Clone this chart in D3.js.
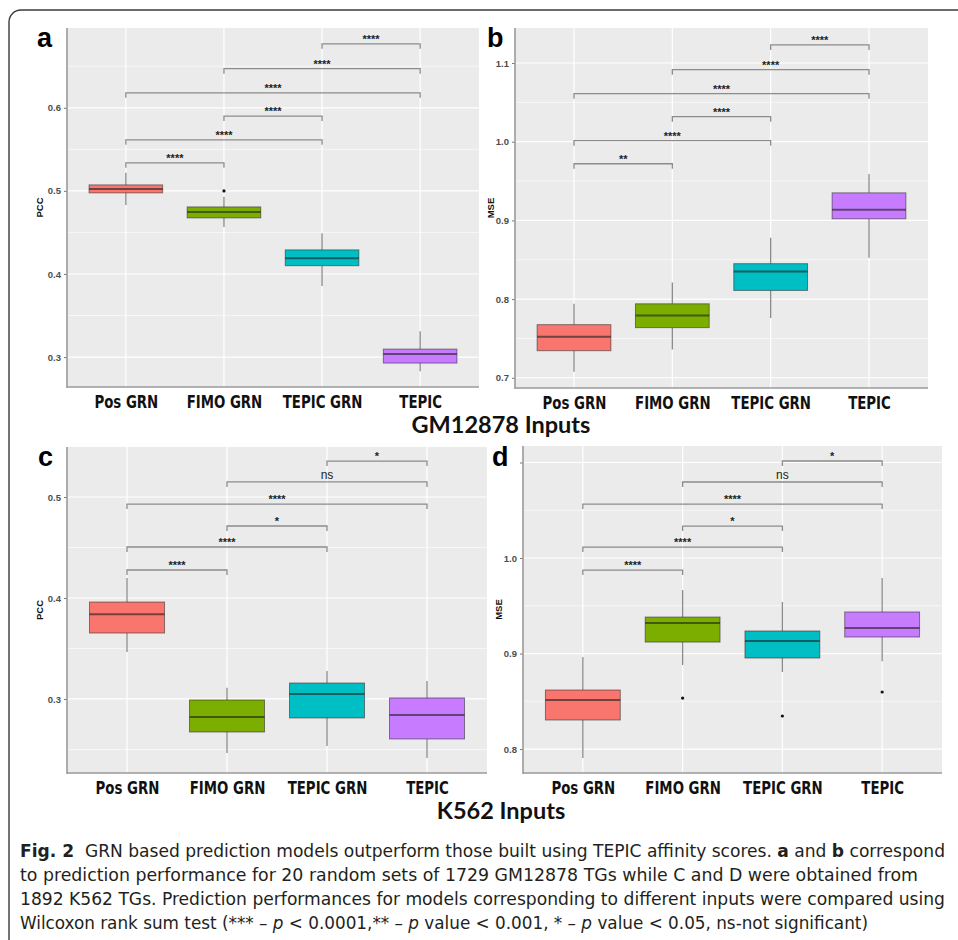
<!DOCTYPE html>
<html>
<head>
<meta charset="utf-8">
<script src="https://cdn.jsdelivr.net/npm/d3@7"></script>
<style>
  body { margin: 0; background: #fff; }
  svg { display: block; }
</style>
</head>
<body>
<div id="chart"></div>
<script>
const categories = ['Pos GRN', 'FIMO GRN', 'TEPIC GRN', 'TEPIC'];

// five-number summaries per category: [lower whisker, q1, median, q3, upper whisker]
const gmPcc = [[0.483, 0.4976, 0.5024, 0.5072, 0.5217], [0.4566, 0.4675, 0.4747, 0.4807, 0.4928],
               [0.3855, 0.410, 0.419, 0.429, 0.449], [0.283, 0.2928, 0.3036, 0.3096, 0.331]];
const gmMse = [[0.7078, 0.7344, 0.752, 0.7675, 0.794], [0.736, 0.7637, 0.779, 0.794, 0.821],
               [0.776, 0.811, 0.835, 0.845, 0.878], [0.8526, 0.902, 0.9136, 0.935, 0.959]];
const k562Pcc = [[0.3465, 0.3653, 0.384, 0.396, 0.4198], [0.2465, 0.2673, 0.2822, 0.299, 0.311],
                 [0.2535, 0.2812, 0.305, 0.3158, 0.3277], [0.2416, 0.2604, 0.2842, 0.301, 0.3178]];
const k562Mse = [[0.7906, 0.8304, 0.8513, 0.8618, 0.8963], [0.888, 0.912, 0.932, 0.9382, 0.9665],
                 [0.8806, 0.8953, 0.913, 0.9236, 0.954], [0.892, 0.9173, 0.9267, 0.9435, 0.979]];

// outliers: [category index, value]
const gmPccOut = [[1, 0.500]];
const gmMseOut = [];
const k562PccOut = [];
const k562MseOut = [[1, 0.8534], [2, 0.8346], [3, 0.8597]];

// significance brackets
const pairs = [[0, 1], [0, 2], [1, 2], [0, 3], [1, 3], [2, 3]];
const gmPccSig = ['****', '****', '****', '****', '****', '****'];
const gmMseSig = ['**', '****', '****', '****', '****', '****'];
const k562Sig = ['****', '****', '*', '****', 'ns', '*'];
const gmPccBracket = [0.5337, 0.5614, 0.590, 0.618, 0.647, 0.677];
const gmMseBracket = [0.972, 1.0013, 1.0318, 1.061, 1.0915, 1.123];
const k562PccBracket = [0.4277, 0.4505, 0.4713, 0.493, 0.5149, 0.5356];
const k562MseBracket = [0.9874, 1.0115, 1.0335, 1.0565, 1.0796, 1.1016];

const gmPccTicks = [0.3, 0.4, 0.5, 0.6];
const gmMseTicks = [0.7, 0.8, 0.9, 1.0, 1.1];
const k562PccTicks = [0.3, 0.4, 0.5];
const k562MseTicks = [0.8, 0.9, 1.0, 1.1];

const colors = ['#F8766D', '#7CAE00', '#00BFC4', '#C77CFF'];

const W = 958, H = 940;
const svg = d3.select('#chart').append('svg')
  .attr('width', W)
  .attr('height', H);

svg.append('rect').attr('width', W).attr('height', H).attr('fill', '#fff');

// figure frame
svg.append('rect')
  .attr('x', 9).attr('y', 10)
  .attr('width', 1000).attr('height', 1000)
  .attr('rx', 12)
  .attr('fill', 'none')
  .attr('stroke', '#3a3a3a')
  .attr('stroke-width', 1.4);

const panels = [
  { label: 'a', yTitle: 'PCC', stats: gmPcc, out: gmPccOut, sig: gmPccSig, br: gmPccBracket, ticks: gmPccTicks,
    domain: [0.264, 0.696], x0: 67, x1: 479, y0: 28, y1: 387, lx: 37, ly: 47, tx: 40 },
  { label: 'b', yTitle: 'MSE', stats: gmMse, out: gmMseOut, sig: gmMseSig, br: gmMseBracket, ticks: gmMseTicks,
    domain: [0.687, 1.1445], x0: 515, x1: 928, y0: 28, y1: 388, lx: 487, ly: 47, tx: 491 },
  { label: 'c', yTitle: 'PCC', stats: k562Pcc, out: k562PccOut, sig: k562Sig, br: k562PccBracket, ticks: k562PccTicks,
    domain: [0.2267, 0.5495], x0: 67, x1: 487, y0: 447, y1: 773, lx: 38, ly: 466, tx: 40 },
  { label: 'd', yTitle: 'MSE', stats: k562Mse, out: k562MseOut, sig: k562Sig, br: k562MseBracket, ticks: k562MseTicks,
    domain: [0.7749, 1.1173], x0: 523, x1: 942, y0: 446, y1: 773, lx: 492, ly: 466, tx: 499 }
];

panels.forEach(drawPanel);

function drawPanel(p) {
  const x = d3.scalePoint().domain(categories).range([p.x0, p.x1]).padding(0.6);
  const y = d3.scaleLinear().domain(p.domain).range([p.y1, p.y0]);
  const step = x.step();
  const g = svg.append('g');

  g.append('rect')
    .attr('x', p.x0).attr('y', p.y0)
    .attr('width', p.x1 - p.x0).attr('height', p.y1 - p.y0)
    .attr('fill', '#EBEBEB');

  const minor = p.ticks.map(t => t - 0.05).concat([p.ticks[p.ticks.length - 1] + 0.05])
    .filter(v => v > p.domain[0] && v < p.domain[1]);
  g.selectAll('.minor').data(minor).enter().append('line')
    .attr('x1', p.x0).attr('x2', p.x1)
    .attr('y1', d => y(d)).attr('y2', d => y(d))
    .attr('stroke', '#fff').attr('stroke-width', 0.6);
  g.selectAll('.major').data(p.ticks.filter(v => v < p.domain[1])).enter().append('line')
    .attr('x1', p.x0).attr('x2', p.x1)
    .attr('y1', d => y(d)).attr('y2', d => y(d))
    .attr('stroke', '#fff').attr('stroke-width', 1.2);
  g.selectAll('.vgrid').data(categories).enter().append('line')
    .attr('x1', d => x(d)).attr('x2', d => x(d))
    .attr('y1', p.y0).attr('y2', p.y1)
    .attr('stroke', '#fff').attr('stroke-width', 1.2);

  // brackets
  p.br.forEach((v, i) => {
    const [a, b] = pairs[i];
    const xa = x(categories[a]), xb = x(categories[b]), yy = y(v);
    g.append('path')
      .attr('d', `M${xa},${yy + 5}V${yy}H${xb}V${yy + 5}`)
      .attr('fill', 'none')
      .attr('stroke', '#8c8c8c')
      .attr('stroke-width', 1.3);
    const isNs = p.sig[i] === 'ns';
    g.append('text')
      .attr('x', (xa + xb) / 2)
      .attr('y', isNs ? yy - 3 : yy - 1)
      .attr('text-anchor', 'middle')
      .attr('font-family', 'Arial, "Liberation Sans", sans-serif')
      .attr('font-size', isNs ? 12 : 11)
      .attr('font-weight', isNs ? 'normal' : 'bold')
      .attr('fill', '#222')
      .text(p.sig[i]);
  });

  // boxes
  p.stats.forEach((s, i) => {
    const cx = x(categories[i]);
    const bw = step * 0.75;
    g.append('line')
      .attr('x1', cx).attr('x2', cx).attr('y1', y(s[4])).attr('y2', y(s[3]))
      .attr('stroke', '#8a8a8a').attr('stroke-width', 1.3);
    g.append('line')
      .attr('x1', cx).attr('x2', cx).attr('y1', y(s[1])).attr('y2', y(s[0]))
      .attr('stroke', '#8a8a8a').attr('stroke-width', 1.3);
    g.append('rect')
      .attr('x', cx - bw / 2).attr('y', y(s[3]))
      .attr('width', bw).attr('height', y(s[1]) - y(s[3]))
      .attr('fill', colors[i])
      .attr('stroke', 'rgba(40,40,40,0.55)')
      .attr('stroke-width', 1);
    g.append('line')
      .attr('x1', cx - bw / 2).attr('x2', cx + bw / 2)
      .attr('y1', y(s[2])).attr('y2', y(s[2]))
      .attr('stroke', 'rgba(30,30,30,0.6)').attr('stroke-width', 2);
  });

  g.selectAll('.out').data(p.out).enter().append('circle')
    .attr('cx', d => x(categories[d[0]]))
    .attr('cy', d => y(d[1]))
    .attr('r', 1.6)
    .attr('fill', '#111');

  // axes; a tick label that would sit under the panel letter is left blank
  const fmt = d3.format('.1f');
  const yAxis = g.append('g')
    .attr('transform', `translate(${p.x0},0)`)
    .call(d3.axisLeft(y).tickValues(p.ticks).tickSize(3)
      .tickFormat(d => (p.x0 - p.lx < 34 && y(d) - p.ly < 0) ? '' : fmt(d)));
  yAxis.select('.domain').remove();
  yAxis.selectAll('line').attr('stroke', '#777');
  yAxis.selectAll('text')
    .attr('fill', '#4d4d4d')
    .attr('font-size', 9.5)
    .attr('font-weight', 'bold')
    .attr('font-family', 'Arial, "Liberation Sans", sans-serif');

  g.append('line')
    .attr('x1', p.x0).attr('x2', p.x0).attr('y1', p.y0).attr('y2', p.y1 + 1)
    .attr('stroke', '#9a9a9a').attr('stroke-width', 1.6);
  g.append('line')
    .attr('x1', p.x0).attr('x2', p.x1).attr('y1', p.y1).attr('y2', p.y1)
    .attr('stroke', '#9a9a9a').attr('stroke-width', 1.6);

  const xAxis = g.append('g')
    .attr('transform', `translate(0,${p.y1})`)
    .call(d3.axisBottom(x).tickSize(0).tickPadding(8));
  xAxis.select('.domain').remove();
  xAxis.selectAll('text')
    .attr('fill', '#111')
    .attr('font-size', 18)
    .attr('font-weight', 'bold')
    .attr('font-family', '"DejaVu Sans", sans-serif')
    .each(function () {
      // squeeze to a condensed look
      const len = this.getComputedTextLength();
      d3.select(this).attr('textLength', len * 0.74).attr('lengthAdjust', 'spacingAndGlyphs');
    });

  g.append('text')
    .attr('transform', `translate(${p.tx},${(p.y0 + p.y1) / 2}) rotate(-90)`)
    .attr('text-anchor', 'middle')
    .attr('dy', '0.35em')
    .attr('font-size', 9.5)
    .attr('font-weight', 'bold')
    .attr('font-family', 'Arial, "Liberation Sans", sans-serif')
    .attr('fill', '#111')
    .text(p.yTitle);

  g.append('text')
    .attr('x', p.lx).attr('y', p.ly)
    .attr('font-size', 27)
    .attr('font-weight', 'bold')
    .attr('font-family', 'Arial, "Liberation Sans", sans-serif')
    .attr('fill', '#000')
    .text(p.label);
}

// row titles
const titles = [['GM12878 Inputs', 433], ['K562 Inputs', 819]];
svg.selectAll('.rowTitle').data(titles).enter().append('text')
  .attr('x', 501).attr('y', d => d[1])
  .attr('text-anchor', 'middle')
  .attr('font-family', 'Lato, "Open Sans", sans-serif')
  .attr('font-weight', 'bold')
  .attr('font-size', 23.5)
  .attr('fill', '#111')
  .text(d => d[0]);

// caption
const capFont = '"DejaVu Sans Condensed", "DejaVu Sans", sans-serif';
const captionLines = [
  { y: 857, w: 925, parts: [['Fig. 2', 'b'], ['  GRN based prediction models outperform those built using TEPIC affinity scores. ', ''], ['a', 'b'], [' and ', ''], ['b', 'b'], [' correspond', '']] },
  { y: 881, w: 898, parts: [['to prediction performance for 20 random sets of 1729 GM12878 TGs while C and D were obtained from', '']] },
  { y: 905, w: 925, parts: [['1892 K562 TGs. Prediction performances for models corresponding to different inputs were compared using', '']] },
  { y: 929, w: 848, parts: [['Wilcoxon rank sum test (*** \u2013 ', ''], ['p', 'i'], [' < 0.0001,** \u2013 ', ''], ['p', 'i'], [' value < 0.001, * \u2013 ', ''], ['p', 'i'], [' value < 0.05, ns-not significant)', '']] }
];
captionLines.forEach(line => {
  const t = svg.append('text')
    .attr('x', 20).attr('y', line.y)
    .attr('font-family', capFont)
    .attr('font-size', 17)
    .attr('fill', '#231f20')
    .attr('textLength', line.w)
    .attr('lengthAdjust', 'spacingAndGlyphs')
    .style('white-space', 'pre');
  line.parts.forEach(([s, st]) => {
    t.append('tspan')
      .attr('font-weight', st === 'b' ? 'bold' : 'normal')
      .attr('font-style', st === 'i' ? 'italic' : 'normal')
      .text(s);
  });
});
</script>
</body>
</html>
